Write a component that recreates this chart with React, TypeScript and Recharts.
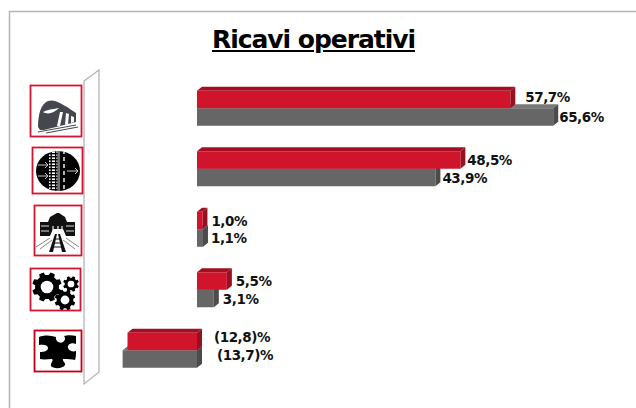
import { BarChart, Bar, XAxis, YAxis, LabelList } from 'recharts';

const categories = ['Treni', 'Infrastruttura', 'Stazioni', 'Servizi', 'Altro'];
const redValues = [57.7, 48.5, 1.0, 5.5, -12.8];
const grayValues = [65.6, 43.9, 1.1, 3.1, -13.7];

// hand placement of the value labels, the source slide has them dragged around
const redLabelNudgeX = [10, 2, 4, 4, 0];
const grayLabelNudgeX = [1, 2, 3, 4, 0];
const redLabelNudgeY = [-2.3, 0, 0, -0.5, -5];
const grayLabelNudgeY = [0, 0, 0, 0.5, -4];

const tableData = categories.map((name, i) => ({ name, red: redValues[i], gray: grayValues[i] }));

const DEPTH_X = 5;
const DEPTH_Y = 4;
const FONT = '"DejaVu Sans", sans-serif';

const formatValue = (v: number) => {
  const text = Math.abs(v).toFixed(1).replace('.', ',');
  return v < 0 ? `(${text})%` : `${text}%`;
};

function makeBox(front: string, top: string, side: string) {
  return function Box3D(props: any) {
    const { x, y, width, height } = props;
    const left = Math.min(x, x + width);
    const right = Math.max(x, x + width);
    return (
      <g>
        <polygon
          points={`${left},${y} ${left + DEPTH_X},${y - DEPTH_Y} ${right + DEPTH_X},${y - DEPTH_Y} ${right},${y}`}
          fill={top}
        />
        <polygon
          points={`${right},${y} ${right + DEPTH_X},${y - DEPTH_Y} ${right + DEPTH_X},${y + height - DEPTH_Y} ${right},${y + height}`}
          fill={side}
        />
        <rect x={left} y={y} width={right - left} height={height} fill={front} />
      </g>
    );
  };
}

function makeLabel(nudgeX: number[], nudgeY: number[], negativeX: number, dy: number) {
  return function ValueLabel(props: any) {
    const { x, y, width, height, value, index } = props;
    const left = value < 0 ? x + negativeX : x + width + DEPTH_X + nudgeX[index];
    return (
      <text
        x={left}
        y={y + height / 2 + dy + nudgeY[index]}
        fontFamily={FONT}
        fontWeight="bold"
        fontSize={13.5}
        letterSpacing={-0.45}
        fill="#111"
        dominantBaseline="central"
      >
        {formatValue(value)}
      </text>
    );
  };
}

function gearPath(cx: number, cy: number, r: number, teeth: number) {
  const out: string[] = [];
  const step = (Math.PI * 2) / teeth;
  for (let i = 0; i < teeth; i++) {
    const a = i * step + step / 2;
    const pts: [number, number][] = [
      [r * 0.8, a - step * 0.32],
      [r, a - step * 0.2],
      [r, a + step * 0.2],
      [r * 0.8, a + step * 0.32],
    ];
    pts.forEach(([rad, ang]) => {
      out.push(`${out.length ? 'L' : 'M'}${(cx + rad * Math.cos(ang)).toFixed(1)} ${(cy + rad * Math.sin(ang)).toFixed(1)}`);
    });
  }
  return out.join(' ') + ' Z';
}

function Gear({ cx, cy, r, teeth }: { cx: number; cy: number; r: number; teeth: number }) {
  return (
    <g>
      <path d={gearPath(cx, cy, r, teeth)} fill="#000" />
      <circle cx={cx} cy={cy} r={r * 0.42} fill="#fff" />
    </g>
  );
}

function Icons() {
  const ties = [153, 156, 159, 162, 165, 168, 171, 174, 177, 180, 183, 186, 189];
  return (
    <svg width={636} height={408} style={{ position: 'absolute', left: 0, top: 0, pointerEvents: 'none' }}>
      <defs>
        <clipPath id="railClip">
          <ellipse cx={58} cy={171} rx={22} ry={20} />
        </clipPath>
      </defs>
      {/* slide frame */}
      <path d="M9.5 408 V11.5 H636" fill="none" stroke="#b4b4b4" strokeWidth={1.5} />
      {/* chart back wall */}
      <polygon points="84,81 99,70 99,372 84,384" fill="#fff" stroke="#b4b4b4" strokeWidth={1.3} />

      {/* icon 1, train */}
      <rect x={30.5} y={85.5} width={51} height={51} fill="#fff" stroke="#d5152f" strokeWidth={1.8} />
      <path d="M38 127 C38 114 41 104 48 101 C54 99 60 102 76 113 L76 122 L44 130 L40 130 Z" fill="#44474d" />
      <path d="M43 112 C48 115 54 113 59 108 C54 109 49 109 43 112 Z" fill="#fff" />
      <path d="M60 112 L63 112 L60 126 L57 126 Z M66 113 L69 114 L68 124 L65 125 Z M71 116 L74 117 L74 122 L71 123 Z" fill="#fff" />
      <path d="M38 132 L76 125 M46 133 L78 127" stroke="#44474d" strokeWidth={1} fill="none" />

      {/* icon 2, rail and road */}
      <rect x={32.5} y={147.5} width={50} height={46} fill="#fff" stroke="#d5152f" strokeWidth={1.8} />
      <ellipse cx={58} cy={171} rx={22} ry={20} fill="#000" />
      <g clipPath="url(#railClip)">
        <rect x={49} y={150} width={8.5} height={42} fill="#fff" />
        {ties.map((ry) => (
          <rect key={ry} x={49} y={ry} width={8.5} height={1.4} fill="#000" />
        ))}
        <rect x={50.5} y={150} width={1.4} height={42} fill="#000" />
        <rect x={55} y={150} width={1.4} height={42} fill="#000" />
        <rect x={58.5} y={150} width={1} height={42} fill="#ddd" />
        <path d="M64 150 V192" stroke="#fff" strokeWidth={1.4} strokeDasharray="4 3" />
      </g>
      <path d="M38 165 H48 M38 176 H48 M67 171 H78" stroke="#ccc" strokeWidth={1} />
      <path d="M45 162 L48 165 L45 168 M45 173 L48 176 L45 179 M75 168 L78 171 L75 174" stroke="#ccc" strokeWidth={1} fill="none" />

      {/* icon 3, station */}
      <rect x={34.5} y={205.5} width={47} height={50} fill="#fff" stroke="#d5152f" strokeWidth={1.8} />
      <path d="M40 222 H48 L50 217 L57 213 L59 213 L65 217 L67 222 H75 V236 H66 L63 229 H53 L50 236 H40 Z" fill="#111" />
      <path d="M41 226 H49 M41 231 H49 M66 226 H74 M66 231 H74" stroke="#ddd" strokeWidth={1.2} />
      <path d="M53 234 V226 M58 234 V226 M62 234 V226" stroke="#eee" strokeWidth={1.2} />
      <path d="M49 252 L55 234 H57 L53 252 Z M66 252 L60 234 H58 L62 252 Z" fill="#111" />
      <path d="M52 247 H63 M53 243 H62 M54 239 H61" stroke="#111" strokeWidth={1.2} />
      <path d="M36 247 L50 238 M40 249 L52 240 M79 247 L66 238 M75 249 L63 240" stroke="#888" strokeWidth={1} />

      {/* icon 4, gears */}
      <rect x={30.5} y={268.5} width={50} height={42} fill="#fff" stroke="#d5152f" strokeWidth={1.8} />
      <Gear cx={47} cy={287} r={15} teeth={8} />
      <Gear cx={71} cy={284} r={8} teeth={8} />
      <Gear cx={65} cy={300} r={10.5} teeth={8} />

      {/* icon 5, puzzle piece */}
      <rect x={34.5} y={330.5} width={47} height={41} fill="#fff" stroke="#c4001a" strokeWidth={1.8} />
      <path
        d="M39 337 C44 335 50 335 56 337 C55 341 60 344 63 342 C66 340 65 337 64 336 C67 335 72 335 76 336 L76 344 C71 342 67 345 68 348 C69 351 73 352 76 351 C76 354 76 357 75 360 C72 359 68 359 63 359 C62 361 66 363 65 365 C63 369 53 369 51 366 C50 363 54 361 52 359 C48 359 44 360 40 359 L40 352 C44 352 48 351 48 348 C48 345 43 344 39 345 Z"
        fill="#000"
      />
    </svg>
  );
}

const RedBox = makeBox('#cf142b', '#a30f20', '#97101f');
const GrayBox = makeBox('#666666', '#787878', '#4b4b4b');

export default function App() {
  return (
    <div style={{ position: 'absolute', left: 0, top: 0, width: 636, height: 408, background: '#fff', overflow: 'hidden' }}>
      <Icons />
      <div
        style={{
          position: 'absolute',
          left: 0,
          width: 627,
          top: 25,
          textAlign: 'center',
          fontFamily: FONT,
          fontWeight: 'bold',
          fontSize: 25,
          letterSpacing: -1.05,
          textDecoration: 'underline',
          color: '#000',
        }}
      >
        Ricavi operativi
      </div>
      <div style={{ position: 'absolute', left: 0, top: 0 }}>
        <BarChart
          width={636}
          height={408}
          data={tableData}
          layout="vertical"
          barGap={0}
          margin={{ top: 68.75, bottom: 19.25, left: 88.4, right: 4.6 }}
        >
          <XAxis type="number" domain={[-20, 80]} hide />
          <YAxis yAxisId="upper" type="category" dataKey="name" width={0} hide padding={{ top: 0, bottom: 17.5 }} />
          <YAxis yAxisId="lower" type="category" dataKey="name" width={0} hide padding={{ top: 17.5, bottom: 0 }} />
          <Bar yAxisId="lower" dataKey="gray" barSize={17.5} shape={GrayBox} isAnimationActive={false}>
            <LabelList dataKey="gray" content={makeLabel(grayLabelNudgeX, grayLabelNudgeY, 20, 0)} />
          </Bar>
          <Bar yAxisId="upper" dataKey="red" barSize={17.5} shape={RedBox} isAnimationActive={false}>
            <LabelList dataKey="red" content={makeLabel(redLabelNudgeX, redLabelNudgeY, 17, 0)} />
          </Bar>
        </BarChart>
      </div>
    </div>
  );
}
